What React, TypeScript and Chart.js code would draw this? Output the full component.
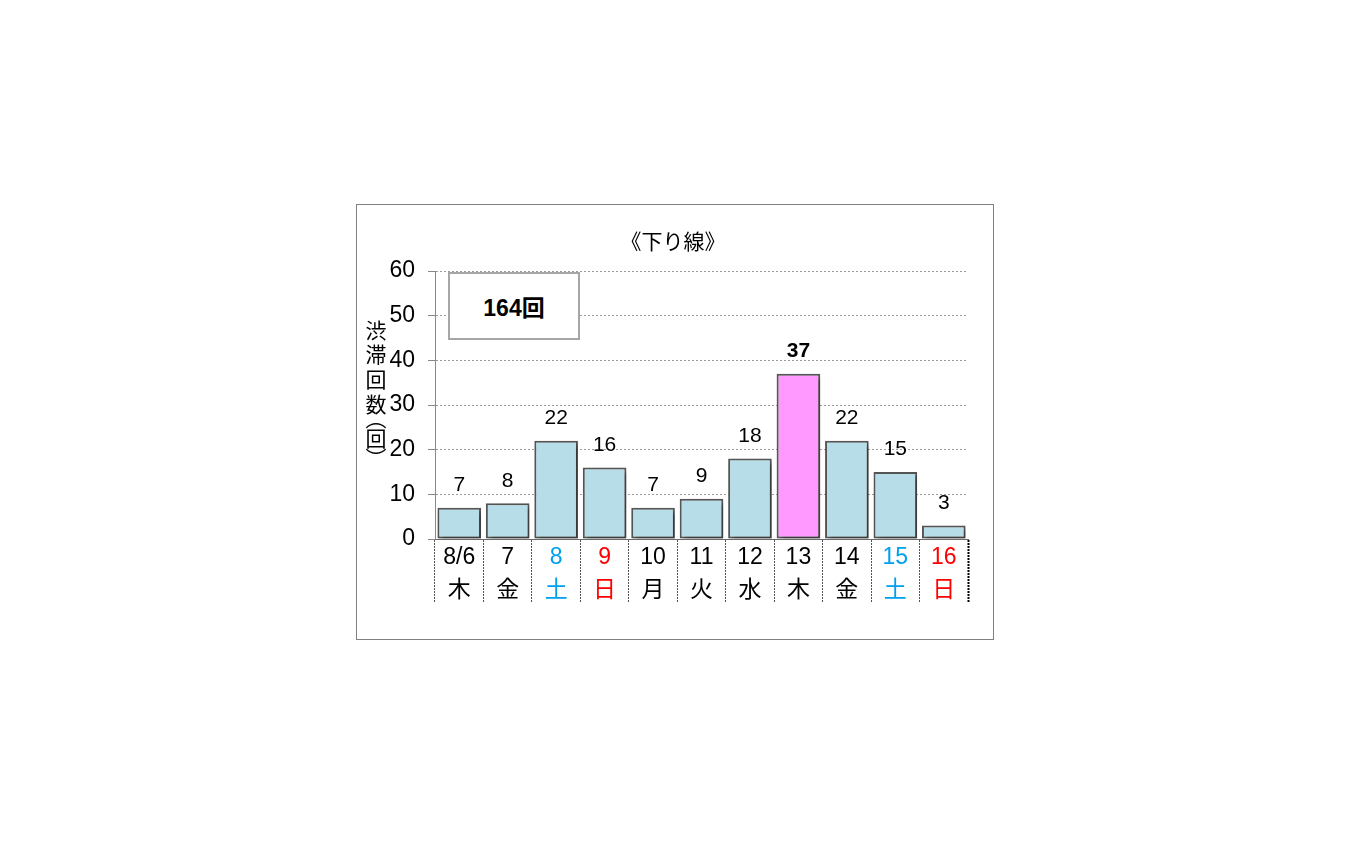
import { useEffect, useRef } from "react";
import { Chart, ChartConfiguration, Plugin } from "chart.js/auto";

const DATES = ["8/6", "7", "8", "9", "10", "11", "12", "13", "14", "15", "16"];
const WEEKDAYS = ["木", "金", "土", "日", "月", "火", "水", "木", "金", "土", "日"];
const JAM_COUNTS = [7, 8, 22, 16, 7, 9, 18, 37, 22, 15, 3];
const HIGHLIGHT_INDEX = 7;
const Y_TICKS = [0, 10, 20, 30, 40, 50, 60];
const TOTAL_LABEL = "164回";
const TITLE = "《下り線》";
const Y_TITLE = ["渋", "滞", "回", "数", "︵", "回", "︶"];

const FONT = "'Liberation Sans', 'Noto Sans CJK JP', sans-serif";
const CJK_FONT = "'Noto Sans CJK JP', sans-serif";
const BAR_BLUE = "#B7DEE8";
const BAR_PINK = "#FF99FF";

function dayColor(day: string) {
  if (day === "土") return "#00A0F0";
  if (day === "日") return "#FF0000";
  return "#000000";
}

// drop shadow under the bars
const barShadow: Plugin = {
  id: "barShadow",
  beforeDatasetsDraw(chart) {
    const ctx = chart.ctx;
    ctx.save();
    ctx.shadowColor = "rgba(0,0,0,0.35)";
    ctx.shadowOffsetX = 3;
    ctx.shadowOffsetY = 3;
    ctx.shadowBlur = 4;
  },
  afterDatasetsDraw(chart) {
    chart.ctx.restore();
  },
};

// title, value labels, vertical y title
const extras: Plugin = {
  id: "extras",
  afterDraw(chart) {
    const ctx = chart.ctx;
    const meta = chart.getDatasetMeta(0);
    ctx.save();
    ctx.fillStyle = "#000";
    ctx.textAlign = "center";

    ctx.textBaseline = "middle";
    ctx.font = "21px " + CJK_FONT;
    ctx.fillText(TITLE, chart.width / 2 - 2, 36);

    ctx.textBaseline = "bottom";
    meta.data.forEach((bar: any, i: number) => {
      ctx.font = (i === HIGHLIGHT_INDEX ? "bold " : "") + "21px " + FONT;
      ctx.fillText(String(JAM_COUNTS[i]), bar.x, bar.y - 12);
    });

    // stacked vertical axis title; the vertical bracket glyphs sit off-centre in their em box
    const x = chart.chartArea.left - 59;
    ctx.textBaseline = "middle";
    ctx.font = "21px " + CJK_FONT;
    const ys = [125, 149, 174, 199, 213, 233, 253];
    Y_TITLE.forEach((ch, i) => {
      ctx.fillText(ch, x, ys[i]);
    });
    ctx.restore();
  },
};

function JamChart() {
  const canvasRef = useRef<HTMLCanvasElement>(null);
  const chartRef = useRef<Chart | null>(null);

  useEffect(() => {
    if (!canvasRef.current) return;
    if (chartRef.current) chartRef.current.destroy();

    const config: ChartConfiguration = {
      type: "bar",
      data: {
        labels: DATES.map((d, i) => [d, WEEKDAYS[i]]),
        datasets: [
          {
            data: JAM_COUNTS,
            backgroundColor: JAM_COUNTS.map((_, i) => (i === HIGHLIGHT_INDEX ? BAR_PINK : BAR_BLUE)),
            borderColor: "#555555",
            borderWidth: 2,
            borderSkipped: false,
            barPercentage: 0.9,
            categoryPercentage: 1,
          },
        ],
      },
      options: {
        animation: false,
        responsive: true,
        maintainAspectRatio: false,
        layout: { padding: { left: 0, right: 25, top: 66, bottom: 0 } },
        plugins: {
          legend: { display: false },
          tooltip: { enabled: false },
          title: { display: false },
        },
        scales: {
          x: {
            afterFit: (scale: any) => {
              scale.height = 100;
            },
            grid: {
              offset: true,
              drawOnChartArea: false,
              drawTicks: true,
              tickLength: 64,
              tickColor: (c: any) => (c.index === undefined || c.index >= DATES.length ? "#000" : "#555"),
              tickWidth: (c: any) => (c.index === undefined || c.index >= DATES.length ? 2 : 1),
              tickBorderDash: [2, 1],
            },
            border: { color: "#6A6A6A", width: 1 },
            ticks: {
              padding: -62,
              color: (c: any) => dayColor(WEEKDAYS[c.index]),
              font: { family: FONT, size: 23, lineHeight: 1.43 },
              maxRotation: 0,
              autoSkip: false,
            },
          },
          y: {
            min: 0,
            max: 60,
            afterFit: (scale: any) => {
              scale.width = 78;
            },
            afterBuildTicks: (scale: any) => {
              scale.ticks = Y_TICKS.map((v) => ({ value: v }));
            },
            grid: {
              color: "#9A9A9A",
              lineWidth: 1,
              tickLength: 7,
              tickColor: "#888",
              tickBorderDash: [],
            },
            border: { color: "#888", width: 1, dash: [2, 2] },
            ticks: {
              padding: 13,
              color: "#000",
              font: { family: FONT, size: 23 },
            },
          },
        },
      },
      plugins: [barShadow, extras],
    };

    chartRef.current = new Chart(canvasRef.current, config);
    return () => {
      if (chartRef.current) chartRef.current.destroy();
    };
  }, []);

  return <canvas ref={canvasRef} />;
}

export default function App() {
  return (
    <div style={{ position: "absolute", left: 0, top: 0, width: 1350, height: 844, background: "#fff" }}>
      <div
        style={{
          position: "absolute",
          left: 356,
          top: 204,
          width: 636,
          height: 434,
          border: "1px solid #808080",
          background: "#fff",
        }}
      >
        <JamChart />
        <div
          style={{
            position: "absolute",
            left: 91,
            top: 67,
            width: 132,
            height: 68,
            boxSizing: "border-box",
            border: "2px solid #A6A6A6",
            background: "#fff",
            display: "flex",
            alignItems: "center",
            justifyContent: "center",
            fontFamily: FONT,
            fontWeight: "bold",
            fontSize: 23,
            color: "#000",
          }}
        >
          {TOTAL_LABEL}
        </div>
      </div>
    </div>
  );
}
